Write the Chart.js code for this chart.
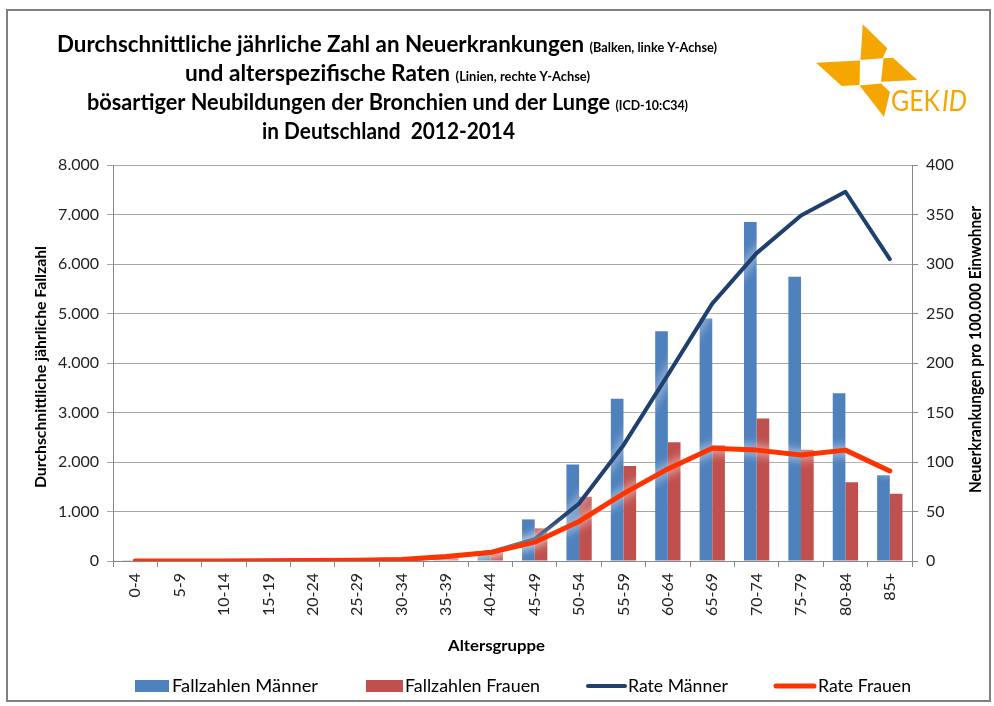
<!DOCTYPE html>
<html>
<head>
<meta charset="utf-8">
<script src="https://cdn.jsdelivr.net/npm/chart.js@4.4.1/dist/chart.umd.min.js"></script>
<style>
  html, body { margin: 0; padding: 0; background: #ffffff; }
  #wrap { width: 994px; height: 706px; position: relative; background: #ffffff; }
  canvas { display: block; }
</style>
</head>
<body>
<div id="wrap"><canvas id="c" width="994" height="706"></canvas></div>
<script>
// ---------- data ----------
const categories = ['0-4','5-9','10-14','15-19','20-24','25-29','30-34','35-39','40-44','45-49','50-54','55-59','60-64','65-69','70-74','75-79','80-84','85+'];
const fallzahlenMaenner = [5, 1, 2, 3, 5, 10, 20, 60, 180, 840, 1950, 3280, 4640, 4900, 6850, 5740, 3390, 1730];
const fallzahlenFrauen  = [3, 1, 2, 3, 5, 10, 20, 60, 170, 660, 1300, 1920, 2400, 2340, 2880, 2250, 1590, 1360];
const rateMaenner = [0.1, 0, 0.1, 0.2, 0.4, 0.8, 1.5, 4, 9, 22, 58, 117, 188, 260, 311, 349, 373, 305];
const rateFrauen  = [0.1, 0, 0.1, 0.2, 0.4, 0.8, 1.5, 4.5, 8.5, 19, 40, 68, 93, 114, 112, 107, 112, 91];
const leftTickLabels  = ['0','1.000','2.000','3.000','4.000','5.000','6.000','7.000','8.000'];
const rightTickLabels = ['0','50','100','150','200','250','300','350','400'];
const seriesNames = ['Fallzahlen Männer','Fallzahlen Frauen','Rate Männer','Rate Frauen'];
const titleLines = [
  [['Durchschnittliche jährliche Zahl an Neuerkrankungen ', 22], ['(Balken, linke Y-Achse)', 12.5]],
  [['und alterspezifische Raten ', 22], ['(Linien, rechte Y-Achse)', 12.5]],
  [['bösartiger Neubildungen der Bronchien und der Lunge ', 22], ['(ICD-10:C34)', 12.5]],
  [['in Deutschland  2012-2014', 22]]
];
const leftAxisTitle = 'Durchschnittliche jährliche Fallzahl';
const rightAxisTitle = 'Neuerkrankungen pro 100.000 Einwohner';
const xAxisTitle = 'Altersgruppe';

// ---------- styles ----------
const FONT = 'Lato';
const C_BLUE = '#4F81BD', C_RED = '#C0504D', C_NAVY = '#1F3F6E', C_ORANGE = '#FF3300';
const C_LOGO = '#F5A600';

Chart.defaults.font.family = FONT;
Chart.defaults.color = '#222';

function fitText(ctx, segs, left, baseline, targetW, weight, italic) {
  let total = 0;
  segs.forEach(s => { ctx.font = (italic ? 'italic ' : '') + weight + ' ' + s[1] + 'px ' + FONT; total += ctx.measureText(s[0]).width; });
  const sx = targetW / total;
  ctx.save();
  ctx.translate(left, baseline);
  ctx.scale(sx, 1);
  let x = 0;
  segs.forEach(s => {
    ctx.font = (italic ? 'italic ' : '') + weight + ' ' + s[1] + 'px ' + FONT;
    ctx.textAlign = 'left'; ctx.textBaseline = 'alphabetic';
    ctx.fillText(s[0], x, 0);
    x += ctx.measureText(s[0]).width;
  });
  ctx.restore();
}

const glowPlugin = {
  id: 'glow',
  beforeDatasetDraw(chart, args) {
    if (chart.data.datasets[args.index].type === 'line') {
      const ctx = chart.ctx;
      ctx.save();
      ctx.shadowColor = 'rgba(255,255,255,1)';
      ctx.shadowBlur = 11;
    }
  },
  afterDatasetDraw(chart, args) {
    if (chart.data.datasets[args.index].type === 'line') chart.ctx.restore();
  }
};

const decoPlugin = {
  id: 'deco',
  beforeDraw(chart) {
    const ctx = chart.ctx;
    ctx.save();
    ctx.fillStyle = '#ffffff';
    ctx.fillRect(0, 0, chart.width, chart.height);
    ctx.restore();
  },
  afterDraw(chart) {
    const ctx = chart.ctx;
    ctx.save();
    ctx.fillStyle = '#000000';
    // titles
    const tl = [[57, 52, 660], [185, 81, 405], [87, 110, 601], [262, 139, 253]];
    titleLines.forEach((segs, i) => fitText(ctx, segs, tl[i][0], tl[i][1], tl[i][2], 'bold', false));
    // axis titles
    ctx.save(); ctx.translate(46, 488); ctx.rotate(-Math.PI / 2);
    fitText(ctx, [[leftAxisTitle, 15]], 0, 0, 242, 'bold', false); ctx.restore();
    ctx.save(); ctx.translate(981, 493); ctx.rotate(-Math.PI / 2);
    fitText(ctx, [[rightAxisTitle, 17]], 0, 0, 287, 'bold', false); ctx.restore();
    fitText(ctx, [[xAxisTitle, 16]], 448, 651, 97, 'bold', false);
    // legend
    const ds = chart.data.datasets;
    const lg = [
      {x: 135, w: 34, tx: 172, tw: 146},
      {x: 366, w: 37, tx: 405, tw: 135},
      {x: 588, w: 37, tx: 628, tw: 100},
      {x: 776, w: 38, tx: 818, tw: 93}
    ];
    const ly = 686;
    ds.forEach((d, i) => {
      const p = lg[i];
      if (d.type === 'bar') {
        ctx.fillStyle = d.backgroundColor;
        ctx.fillRect(p.x, ly - 6, p.w, 12);
      } else {
        ctx.strokeStyle = d.borderColor; ctx.lineWidth = d.borderWidth; ctx.lineCap = 'round';
        ctx.beginPath(); ctx.moveTo(p.x, ly); ctx.lineTo(p.x + p.w, ly); ctx.stroke();
      }
      ctx.fillStyle = '#000';
      fitText(ctx, [[d.label, 17]], p.tx, ly + 6, p.tw, 'normal', false);
    });
    // logo
    ctx.fillStyle = C_LOGO;
    const blades = [
      [[862.7,24.3],[887.3,48.3],[882.7,58.3],[860.5,60]],
      [[883.5,58.3],[893,57.7],[917.3,80],[881,81.7]],
      [[816,62.7],[860,60.5],[859.5,85],[841.7,86]],
      [[859.5,85.5],[881,83.5],[890,92],[884,117]]
    ];
    blades.forEach(b => { ctx.beginPath(); ctx.moveTo(b[0][0], b[0][1]); b.slice(1).forEach(q => ctx.lineTo(q[0], q[1])); ctx.closePath(); ctx.fill(); });
    fitText(ctx, [['GEK', 29]], 891, 111, 49, 'normal', false);
    fitText(ctx, [['ID', 29]], 942, 111, 25, 'normal', true);
    // frame
    ctx.strokeStyle = '#808080'; ctx.lineWidth = 2;
    ctx.strokeRect(7, 10, 983, 691);
    ctx.restore();
  }
};

new Chart(document.getElementById('c'), {
  type: 'bar',
  data: {
    labels: categories,
    datasets: [
      { type: 'bar', label: seriesNames[0], data: fallzahlenMaenner, backgroundColor: C_BLUE, yAxisID: 'y', order: 3, categoryPercentage: 0.57, barPercentage: 1.0 },
      { type: 'bar', label: seriesNames[1], data: fallzahlenFrauen, backgroundColor: C_RED, yAxisID: 'y', order: 3, categoryPercentage: 0.57, barPercentage: 1.0 },
      { type: 'line', label: seriesNames[2], data: rateMaenner, borderColor: C_NAVY, backgroundColor: C_NAVY, borderWidth: 4, pointRadius: 0, tension: 0, yAxisID: 'y1', order: 2, borderJoinStyle: 'round', borderCapStyle: 'round' },
      { type: 'line', label: seriesNames[3], data: rateFrauen, borderColor: C_ORANGE, backgroundColor: C_ORANGE, borderWidth: 5, pointRadius: 0, tension: 0, yAxisID: 'y1', order: 1, borderJoinStyle: 'round', borderCapStyle: 'round' }
    ]
  },
  options: {
    responsive: false,
    animation: false,
    devicePixelRatio: 1,
    layout: { padding: { top: 165, left: 0, right: 0, bottom: 0 } },
    plugins: { legend: { display: false }, title: { display: false }, tooltip: { enabled: false } },
    scales: {
      x: {
        afterFit: s => { s.height = 145; },
        grid: { drawOnChartArea: false, offset: true, tickLength: 6, color: '#888' },
        border: { color: '#888' },
        ticks: { autoSkip: false, minRotation: 90, maxRotation: 90, padding: 6, font: { size: 16 }, color: '#222' }
      },
      y: {
        position: 'left', min: 0, max: 8000,
        afterFit: s => { s.width = 113; },
        grid: { color: '#a6a6a6', tickLength: 6 },
        border: { color: '#888' },
        ticks: { stepSize: 1000, padding: 8, font: { size: 16 }, color: '#222', callback: (v, i) => leftTickLabels[i] }
      },
      y1: {
        position: 'right', min: 0, max: 400,
        afterFit: s => { s.width = 82; },
        grid: { drawOnChartArea: false, tickLength: 6, color: '#888' },
        border: { color: '#888' },
        ticks: { stepSize: 50, padding: 8, font: { size: 16 }, color: '#222', callback: (v, i) => rightTickLabels[i] }
      }
    }
  },
  plugins: [glowPlugin, decoPlugin]
});
</script>
</body>
</html>
